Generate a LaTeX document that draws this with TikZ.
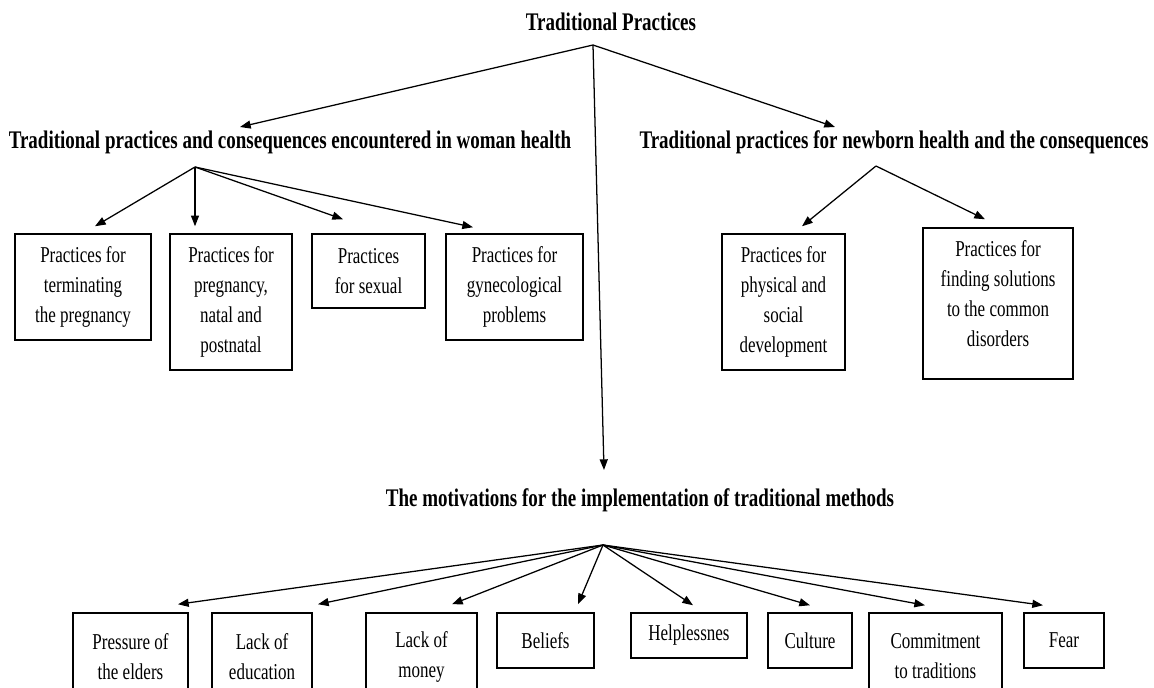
\documentclass[tikz,border=0pt]{standalone}
\usepackage{fontspec}
\setmainfont{Liberation Serif}[FakeStretch=0.75]
\usetikzlibrary{arrows.meta}
\begin{document}
\begin{tikzpicture}[x=0.75pt,y=-0.75pt,
  box/.style 2 args={draw, line width=1.1pt, inner sep=0pt, align=center,
    minimum width=#1*0.75pt, minimum height=#2*0.75pt,
    font=\fontsize{17}{22.5}\selectfont},
  head/.style={font=\fontsize{19}{22}\selectfont\bfseries, inner sep=0pt},
  arr/.style={-{Triangle[length=8pt,width=6pt]}, line width=0.95pt}]
\clip (0,0) rectangle (1154,688);
\fill[white] (0,0) rectangle (1154,688);
% headings
\node[head] (t)  at (611,22)  {Traditional Practices};
\node[head] (h1) at (290,142) {Traditional practices and consequences encountered in woman health};
\node[head] (h2) at (894,142) {Traditional practices for newborn health and the consequences};
\node[head] (h3) at (640,500) {The motivations for the implementation of traditional methods};
% fan origins
\coordinate (o0) at (593,45);
\coordinate (o1) at (195,167);
\coordinate (o2) at (876,166);
\coordinate (o3) at (603,545);
% woman health boxes
\node[box={136}{106}] (b1) at (83,287)    {Practices for\\terminating\\the pregnancy};
\node[box={122}{136}] (b2) at (231,302)   {Practices for\\pregnancy,\\natal and\\postnatal};
\node[box={113}{74}]  (b3) at (368.5,271) {Practices\\for sexual};
\node[box={137}{106}] (b4) at (514.5,287) {Practices for\\gynecological\\problems};
% newborn boxes
\node[box={123}{136}] (b5) at (783.5,302) {Practices for\\physical and\\social\\development};
\node[box={150}{151}] (b6) at (998,303.5) {Practices for\\finding solutions\\to the common\\disorders\\[-8pt]};
% motivation boxes
\node[box={115}{87}] (m1) at (130.5,656.5) {Pressure of\\the elders};
\node[box={100}{87}] (m2) at (262,656.5)   {Lack of\\education};
\node[box={111}{87}] (m3) at (421.5,656.5) {Lack of\\money};
\node[box={97}{55}]  (m4) at (545.5,640.5) {Beliefs};
\node[box={116}{45}] (m5) at (689,635.5)   {Helplessnes};
\node[box={84}{55}]  (m6) at (810,640.5)   {Culture};
\node[box={133}{87}] (m7) at (935.5,656.5) {Commitment\\to traditions};
\node[box={80}{55}]  (m8) at (1064,640.5)  {Fear};
% connectors
\draw[arr] (o0) -- ([shift={(-50,-15)}]h1.center);
\draw[arr] (o0) -- ([shift={(-59,-15)}]h2.center);
\draw[arr] (o0) -- ([shift={(-36,-30)}]h3.center);
\draw[arr] (o1) -- ([shift={(12,-7)}]b1.north);
\draw[arr] (o1) -- ([shift={(-36,-7)}]b2.north);
\draw[arr] (o1) -- ([shift={(-25.5,-14)}]b3.north);
\draw[arr] (o1) -- ([shift={(-41.5,-6)}]b4.north);
\draw[arr] (o2) -- ([shift={(18.5,-7)}]b5.north);
\draw[arr] (o2) -- ([shift={(-13,-8)}]b6.north);
\draw[arr] (o3) -- ([shift={(47.5,-8)}]m1.north);
\draw[arr] (o3) -- ([shift={(56,-8)}]m2.north);
\draw[arr] (o3) -- ([shift={(30.5,-8)}]m3.north);
\draw[arr] (o3) -- ([shift={(32.5,-8)}]m4.north);
\draw[arr] (o3) -- ([shift={(4,-7)}]m5.north);
\draw[arr] (o3) -- ([shift={(0,-7)}]m6.north);
\draw[arr] (o3) -- ([shift={(-10.5,-7)}]m7.north);
\draw[arr] (o3) -- ([shift={(-21,-7)}]m8.north);
\end{tikzpicture}
\end{document}
